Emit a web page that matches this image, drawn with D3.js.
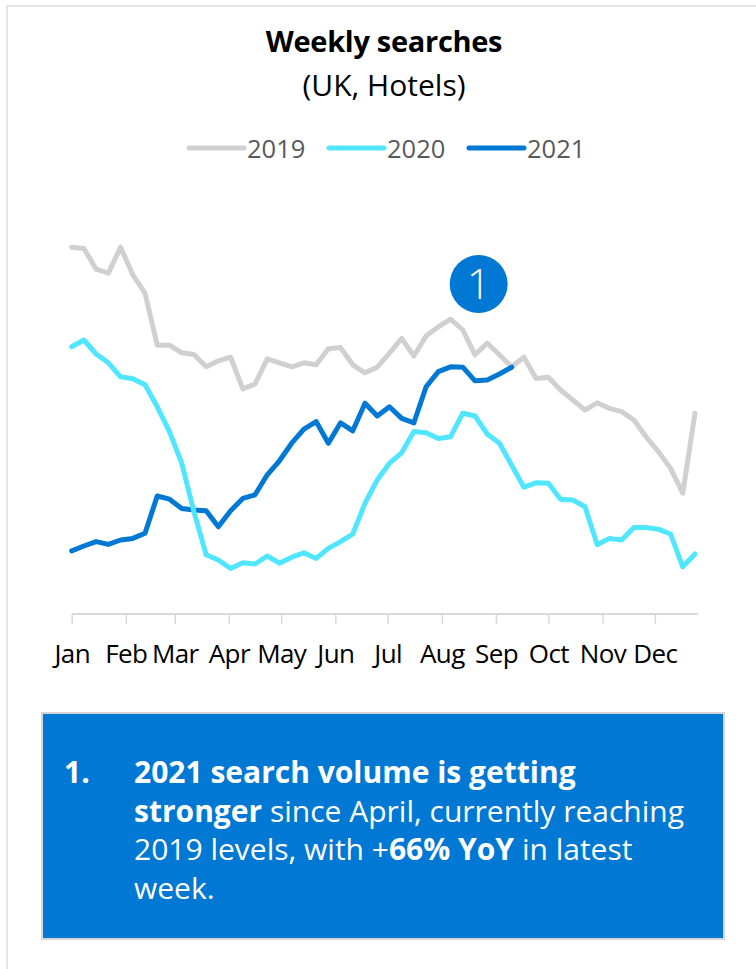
<!DOCTYPE html>
<html>
<head>
<meta charset="utf-8">
<script src="https://cdn.jsdelivr.net/npm/d3@7/dist/d3.min.js"></script>
<style>
  html, body { margin: 0; padding: 0; background: #ffffff; }
  svg { display: block; font-family: "Open Sans", "Segoe UI", sans-serif; }
</style>
</head>
<body>
<svg id="chart" width="756" height="969"></svg>
<script>
// Month labels on the x axis and the day of year each month starts on
const monthLabels = ["Jan", "Feb", "Mar", "Apr", "May", "Jun", "Jul", "Aug", "Sep", "Oct", "Nov", "Dec"];
const monthStartDays = [0, 31, 59, 90, 120, 151, 181, 212, 243, 273, 304, 334];

// Weekly search index, one value per week of the year
const searches2019 = [91.7, 91.4, 86.2, 85.2, 91.7, 84.8, 80.2, 67.2, 67.2, 65.3, 64.9, 61.8, 63.3,
  64.2, 56.3, 57.5, 63.8, 62.8, 61.8, 62.8, 62.3, 66.3, 66.6, 62.3, 60.3, 61.7, 65.2, 68.9, 64.5,
  69.5, 71.8, 73.7, 71.0, 64.8, 67.7, 64.8, 61.8, 64.2, 58.9, 59.2, 56.0, 53.5, 51.0, 52.8, 51.4,
  50.6, 48.5, 44.3, 40.6, 36.4, 30.2, 50.2];
const searches2020 = [66.8, 68.5, 65.0, 62.8, 59.3, 58.8, 57.3, 51.8, 45.6, 37.7, 25.6, 14.8, 13.5,
  11.4, 12.8, 12.5, 14.5, 12.7, 14.2, 15.3, 13.9, 16.4, 18.1, 20.0, 27.7, 33.5, 37.7, 40.3, 45.6,
  45.3, 43.9, 44.3, 50.2, 49.5, 45.0, 42.7, 37.2, 31.7, 32.8, 32.7, 28.7, 28.5, 26.8, 17.3, 18.9,
  18.5, 21.6, 21.6, 21.2, 20.0, 11.8, 15.0];
const searches2021 = [15.8, 17.0, 18.1, 17.4, 18.5, 18.9, 20.2, 29.5, 28.7, 26.4, 26.0, 25.8, 21.8,
  25.8, 28.9, 29.8, 34.8, 38.3, 42.7, 46.2, 48.1, 42.7, 47.8, 45.8, 52.7, 49.5, 51.8, 48.9, 47.8,
  56.8, 60.6, 61.8, 61.7, 58.3, 58.5, 60.0, 61.7];

const seriesNames = ["2019", "2020", "2021"];

// Callout marker: week position and index level where it sits
const calloutLabel = "1";
const calloutWeek = 33.3;
const calloutLevel = 82.5;

const series = [
  { name: seriesNames[0], values: searches2019, color: "#d0d0d0" },
  { name: seriesNames[1], values: searches2020, color: "#50e6ff" },
  { name: seriesNames[2], values: searches2021, color: "#0078d4" }
];

const svg = d3.select("#chart");

// Card outline
svg.append("rect")
  .attr("x", 7).attr("y", 6)
  .attr("width", 780).attr("height", 990)
  .attr("fill", "#ffffff")
  .attr("stroke", "#e4e4e4")
  .attr("stroke-width", 2);

// Title block
svg.append("text")
  .attr("x", 384).attr("y", 52)
  .attr("text-anchor", "middle")
  .attr("font-size", 29).attr("font-weight", 700)
  .attr("letter-spacing", -0.3)
  .attr("fill", "#000000")
  .text("Weekly searches");
svg.append("text")
  .attr("x", 384).attr("y", 96)
  .attr("text-anchor", "middle")
  .attr("font-size", 30)
  .attr("fill", "#000000")
  .text("(UK, Hotels)");

// Scales
const x = d3.scaleLinear().domain([0, 51]).range([71.7, 695]);
const y = d3.scaleLinear().domain([0, 100]).range([614, 214]);

// Legend
const legendX = [189, 329, 469];
const legend = svg.append("g").selectAll("g")
  .data(series)
  .join("g")
  .attr("transform", (d, i) => `translate(${legendX[i]},148)`);
legend.append("line")
  .attr("x1", 0).attr("x2", 55)
  .attr("stroke", d => d.color)
  .attr("stroke-width", 5)
  .attr("stroke-linecap", "round");
legend.append("text")
  .attr("x", 58).attr("y", 9.5)
  .attr("font-size", 25.5)
  .attr("fill", "#595959")
  .text(d => d.name);

// X axis with month ticks
const axis = d3.axisBottom(x)
  .tickValues(monthStartDays.map(d => d / 7))
  .tickFormat((d, i) => monthLabels[i])
  .tickSize(10)
  .tickSizeOuter(0)
  .tickPadding(21);
const gAxis = svg.append("g")
  .attr("transform", `translate(0,${y(0)})`)
  .call(axis);
gAxis.select(".domain").remove();
gAxis.append("line")
  .attr("x1", x(0)).attr("x2", x(51.25))
  .attr("stroke", "#d9d9d9").attr("stroke-width", 2);
gAxis.selectAll(".tick line").attr("stroke", "#d9d9d9").attr("stroke-width", 1.5);
gAxis.selectAll(".tick text")
  .attr("font-size", 26)
  .attr("letter-spacing", -0.6)
  .attr("font-family", "\"Open Sans\", sans-serif")
  .attr("fill", "#000000");

// Series lines: 2019 underneath, then 2021, then 2020
const line = d3.line()
  .x((d, i) => x(i))
  .y(d => y(d));
const drawOrder = [series[0], series[2], series[1]];
svg.append("g")
  .selectAll("path")
  .data(drawOrder)
  .join("path")
  .attr("d", d => line(d.values))
  .attr("fill", "none")
  .attr("stroke", d => d.color)
  .attr("stroke-width", 5)
  .attr("stroke-linejoin", "round")
  .attr("stroke-linecap", "round");

// Numbered callout
const callout = svg.append("g")
  .attr("transform", `translate(${x(calloutWeek)},${y(calloutLevel)})`);
callout.append("circle")
  .attr("r", 29)
  .attr("fill", "#0078d4");
callout.append("text")
  .attr("text-anchor", "middle")
  .attr("y", 15)
  .attr("font-size", 42)
  .attr("font-weight", 300)
  .attr("fill", "#ffffff")
  .text(calloutLabel);

// Insight box
svg.append("rect")
  .attr("x", 42).attr("y", 713)
  .attr("width", 682).attr("height", 226)
  .attr("fill", "#0078d4")
  .attr("stroke", "#d6d6d6")
  .attr("stroke-width", 2);

const noteFont = 30;
svg.append("text")
  .attr("x", 64).attr("y", 783)
  .attr("font-size", noteFont).attr("font-weight", 700)
  .attr("fill", "#ffffff")
  .text("1.");

const noteLines = [
  [{ t: "2021 search volume is getting", b: true }],
  [{ t: "stronger", b: true }, { t: " since April, currently reaching", b: false }],
  [{ t: "2019 levels, with +", b: false }, { t: "66% YoY", b: true }, { t: " in latest", b: false }],
  [{ t: "week.", b: false }]
];
const note = svg.append("text")
  .attr("font-size", noteFont)
  .attr("fill", "#ffffff")
  .attr("xml:space", "preserve");
noteLines.forEach((parts, li) => {
  parts.forEach((p, pi) => {
    const ts = note.append("tspan")
      .attr("font-weight", p.b ? 700 : 400)
      .text(p.t);
    if (pi === 0) ts.attr("x", 134).attr("y", 783 + li * 38.5);
  });
});
</script>
</body>
</html>
